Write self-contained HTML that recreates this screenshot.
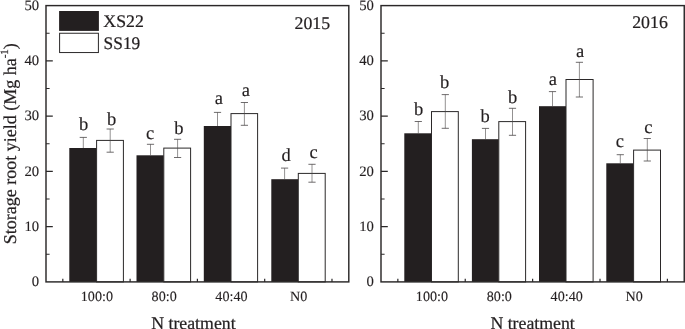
<!DOCTYPE html>
<html lang="en"><head><meta charset="utf-8"><title>Storage root yield</title>
<style>html,body{margin:0;padding:0;background:#fff;}body{width:685px;height:329px;overflow:hidden;}svg{display:block;}text{font-family:"Liberation Serif","Times New Roman",Times,serif;fill:#231f20;}text{stroke:#231f20;stroke-width:0.22px;text-rendering:geometricPrecision;}.t{font-size:14.15px;stroke-width:0.12px;}.l{font-size:17.8px;}.y{font-size:17.8px;}.g{font-size:17.7px;}.c{font-size:18.5px;stroke-width:0.15px;}</style></head><body>
<svg width="685" height="329" viewBox="0 0 685 329">
<rect width="685" height="329" fill="#fff"/>
<rect x="69.30" y="148.00" width="27.30" height="133.90" fill="#231f20"/>
<rect x="96.60" y="140.40" width="26.80" height="141.50" fill="#fff" stroke="#2b2829" stroke-width="1"/>
<rect x="136.50" y="155.30" width="27.30" height="126.60" fill="#231f20"/>
<rect x="163.80" y="148.10" width="26.80" height="133.80" fill="#fff" stroke="#2b2829" stroke-width="1"/>
<rect x="203.80" y="126.00" width="27.20" height="155.90" fill="#231f20"/>
<rect x="231.00" y="113.60" width="26.60" height="168.30" fill="#fff" stroke="#2b2829" stroke-width="1"/>
<rect x="271.30" y="179.20" width="27.00" height="102.70" fill="#231f20"/>
<rect x="298.30" y="173.40" width="26.90" height="108.50" fill="#fff" stroke="#2b2829" stroke-width="1"/>
<path d="M83.30 137.40V148.00" fill="none" stroke="#4a4647" stroke-width="0.6"/>
<path d="M79.70 137.40h7.2" fill="none" stroke="#4a4647" stroke-width="0.8"/>
<text class="c" x="83.70" y="129.50" text-anchor="middle">b</text>
<path d="M110.20 129.00V152.20" fill="none" stroke="#4a4647" stroke-width="0.6"/>
<path d="M106.60 129.00h7.2M106.60 152.20h7.2" fill="none" stroke="#4a4647" stroke-width="0.8"/>
<text class="c" x="111.70" y="124.90" text-anchor="middle">b</text>
<path d="M150.50 144.30V155.30" fill="none" stroke="#4a4647" stroke-width="0.6"/>
<path d="M146.90 144.30h7.2" fill="none" stroke="#4a4647" stroke-width="0.8"/>
<text class="c" x="150.00" y="138.50" text-anchor="middle">c</text>
<path d="M177.60 139.30V157.50" fill="none" stroke="#4a4647" stroke-width="0.6"/>
<path d="M174.00 139.30h7.2M174.00 157.50h7.2" fill="none" stroke="#4a4647" stroke-width="0.8"/>
<text class="c" x="178.80" y="134.00" text-anchor="middle">b</text>
<path d="M217.50 112.40V126.00" fill="none" stroke="#4a4647" stroke-width="0.6"/>
<path d="M213.90 112.40h7.2" fill="none" stroke="#4a4647" stroke-width="0.8"/>
<text class="c" x="218.90" y="103.50" text-anchor="middle">a</text>
<path d="M244.40 102.50V125.30" fill="none" stroke="#4a4647" stroke-width="0.6"/>
<path d="M240.80 102.50h7.2M240.80 125.30h7.2" fill="none" stroke="#4a4647" stroke-width="0.8"/>
<text class="c" x="245.80" y="95.60" text-anchor="middle">a</text>
<path d="M284.60 168.10V179.20" fill="none" stroke="#4a4647" stroke-width="0.6"/>
<path d="M281.00 168.10h7.2" fill="none" stroke="#4a4647" stroke-width="0.8"/>
<text class="c" x="286.10" y="161.00" text-anchor="middle">d</text>
<path d="M312.00 164.30V182.20" fill="none" stroke="#4a4647" stroke-width="0.6"/>
<path d="M308.40 164.30h7.2M308.40 182.20h7.2" fill="none" stroke="#4a4647" stroke-width="0.8"/>
<text class="c" x="313.50" y="158.00" text-anchor="middle">c</text>
<rect x="46.00" y="5.60" width="302.80" height="276.30" fill="none" stroke="#2b2829" stroke-width="1.45"/>
<path d="M46.00 254.27h3.60M46.00 226.64h6.80M46.00 199.01h3.60M46.00 171.38h6.80M46.00 143.75h3.60M46.00 116.12h6.80M46.00 88.49h3.60M46.00 60.86h6.80M46.00 33.23h3.60M62.82 281.90v-3.2M130.11 281.90v-3.2M197.40 281.90v-3.2M264.69 281.90v-3.2M331.98 281.90v-3.2" fill="none" stroke="#2b2829" stroke-width="1.2"/>
<text class="t" transform="translate(39.10 286.05) scale(1.04 1.02)" text-anchor="end">0</text>
<text class="t" transform="translate(39.10 230.79) scale(1.04 1.02)" text-anchor="end">10</text>
<text class="t" transform="translate(39.10 175.53) scale(1.04 1.02)" text-anchor="end">20</text>
<text class="t" transform="translate(39.10 120.27) scale(1.04 1.02)" text-anchor="end">30</text>
<text class="t" transform="translate(39.10 65.01) scale(1.04 1.02)" text-anchor="end">40</text>
<text class="t" transform="translate(39.10 9.75) scale(1.04 1.02)" text-anchor="end">50</text>
<text class="t" x="96.87" y="300.85" text-anchor="middle">100:0</text>
<text class="t" x="164.16" y="300.85" text-anchor="middle">80:0</text>
<text class="t" x="231.44" y="300.85" text-anchor="middle">40:40</text>
<text class="t" x="298.73" y="300.85" text-anchor="middle">N0</text>
<text class="y" transform="translate(312.35 28.60) scale(1 1)" text-anchor="middle">2015</text>
<text class="l" x="193.40" y="329.4" text-anchor="middle">N treatment</text>
<rect x="404.30" y="133.30" width="27.20" height="148.60" fill="#231f20"/>
<rect x="431.50" y="111.60" width="26.80" height="170.30" fill="#fff" stroke="#2b2829" stroke-width="1"/>
<rect x="471.90" y="139.20" width="26.90" height="142.70" fill="#231f20"/>
<rect x="498.80" y="121.60" width="26.80" height="160.30" fill="#fff" stroke="#2b2829" stroke-width="1"/>
<rect x="539.00" y="106.20" width="27.00" height="175.70" fill="#231f20"/>
<rect x="566.00" y="79.50" width="27.10" height="202.40" fill="#fff" stroke="#2b2829" stroke-width="1"/>
<rect x="606.30" y="163.30" width="27.30" height="118.60" fill="#231f20"/>
<rect x="633.60" y="150.10" width="26.90" height="131.80" fill="#fff" stroke="#2b2829" stroke-width="1"/>
<path d="M418.30 121.50V133.30" fill="none" stroke="#4a4647" stroke-width="0.6"/>
<path d="M414.70 121.50h7.2" fill="none" stroke="#4a4647" stroke-width="0.8"/>
<text class="c" x="418.50" y="114.60" text-anchor="middle">b</text>
<path d="M445.30 94.60V128.30" fill="none" stroke="#4a4647" stroke-width="0.6"/>
<path d="M441.70 94.60h7.2M441.70 128.30h7.2" fill="none" stroke="#4a4647" stroke-width="0.8"/>
<text class="c" x="444.50" y="87.50" text-anchor="middle">b</text>
<path d="M485.50 128.40V139.20" fill="none" stroke="#4a4647" stroke-width="0.6"/>
<path d="M481.90 128.40h7.2" fill="none" stroke="#4a4647" stroke-width="0.8"/>
<text class="c" x="485.00" y="121.60" text-anchor="middle">b</text>
<path d="M512.50 108.30V135.30" fill="none" stroke="#4a4647" stroke-width="0.6"/>
<path d="M508.90 108.30h7.2M508.90 135.30h7.2" fill="none" stroke="#4a4647" stroke-width="0.8"/>
<text class="c" x="512.50" y="102.60" text-anchor="middle">b</text>
<path d="M552.50 91.60V106.20" fill="none" stroke="#4a4647" stroke-width="0.6"/>
<path d="M548.90 91.60h7.2" fill="none" stroke="#4a4647" stroke-width="0.8"/>
<text class="c" x="552.80" y="84.50" text-anchor="middle">a</text>
<path d="M579.40 62.30V97.00" fill="none" stroke="#4a4647" stroke-width="0.6"/>
<path d="M575.80 62.30h7.2M575.80 97.00h7.2" fill="none" stroke="#4a4647" stroke-width="0.8"/>
<text class="c" x="580.20" y="56.70" text-anchor="middle">a</text>
<path d="M620.30 154.70V163.30" fill="none" stroke="#4a4647" stroke-width="0.6"/>
<path d="M616.70 154.70h7.2" fill="none" stroke="#4a4647" stroke-width="0.8"/>
<text class="c" x="619.80" y="147.00" text-anchor="middle">c</text>
<path d="M647.30 138.50V161.00" fill="none" stroke="#4a4647" stroke-width="0.6"/>
<path d="M643.70 138.50h7.2M643.70 161.00h7.2" fill="none" stroke="#4a4647" stroke-width="0.8"/>
<text class="c" x="648.30" y="132.50" text-anchor="middle">c</text>
<rect x="381.00" y="5.60" width="303.25" height="276.30" fill="none" stroke="#2b2829" stroke-width="1.45"/>
<path d="M381.00 254.27h3.60M381.00 226.64h6.80M381.00 199.01h3.60M381.00 171.38h6.80M381.00 143.75h3.60M381.00 116.12h6.80M381.00 88.49h3.60M381.00 60.86h6.80M381.00 33.23h3.60M397.85 281.90v-3.2M465.24 281.90v-3.2M532.62 281.90v-3.2M600.01 281.90v-3.2M667.40 281.90v-3.2" fill="none" stroke="#2b2829" stroke-width="1.2"/>
<text class="t" transform="translate(373.85 286.05) scale(1.04 1.02)" text-anchor="end">0</text>
<text class="t" transform="translate(373.85 230.79) scale(1.04 1.02)" text-anchor="end">10</text>
<text class="t" transform="translate(373.85 175.53) scale(1.04 1.02)" text-anchor="end">20</text>
<text class="t" transform="translate(373.85 120.27) scale(1.04 1.02)" text-anchor="end">30</text>
<text class="t" transform="translate(373.85 65.01) scale(1.04 1.02)" text-anchor="end">40</text>
<text class="t" transform="translate(373.85 9.75) scale(1.04 1.02)" text-anchor="end">50</text>
<text class="t" x="431.94" y="300.85" text-anchor="middle">100:0</text>
<text class="t" x="499.33" y="300.85" text-anchor="middle">80:0</text>
<text class="t" x="566.72" y="300.85" text-anchor="middle">40:40</text>
<text class="t" x="634.11" y="300.85" text-anchor="middle">N0</text>
<text class="y" transform="translate(650.00 28.00) scale(1 1)" text-anchor="middle">2016</text>
<text class="l" x="532.60" y="329.4" text-anchor="middle">N treatment</text>
<rect x="59.1" y="11.0" width="39.8" height="19.9" fill="#231f20"/>
<rect x="59.6" y="33.25" width="38.8" height="19.3" fill="#fff" stroke="#2b2829" stroke-width="1"/>
<text class="g" transform="translate(103.3 26.6) scale(1.005 1.0)">XS22</text>
<text class="g" transform="translate(103.6 48.5) scale(0.98 1.0)">SS19</text>
<text class="l" style="font-size:18px" transform="translate(16 143.7) rotate(-90)" text-anchor="middle">Storage root yield (Mg ha<tspan font-size="11px" dy="-8">-1</tspan><tspan dy="8">)</tspan></text>
</svg></body></html>
